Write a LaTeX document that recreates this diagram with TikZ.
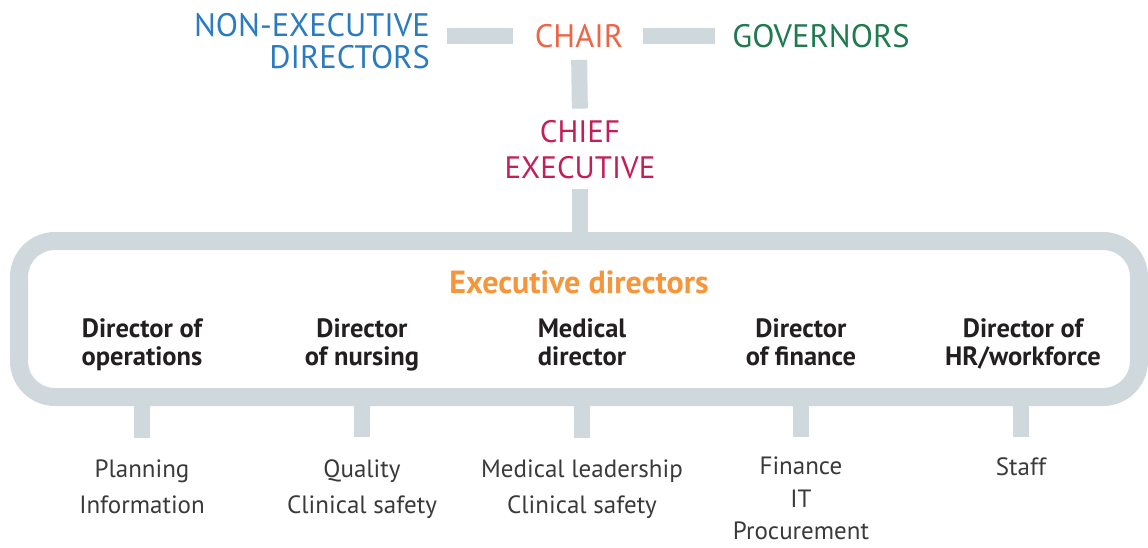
\documentclass[tikz,border=0pt]{standalone}
\usepackage{fontspec}
\setmainfont{PT Sans}
\definecolor{bargray}{HTML}{CFD8DD}
\definecolor{nedblue}{HTML}{2A7BBF}
\definecolor{chairred}{HTML}{EF6445}
\definecolor{govgreen}{HTML}{1F7A50}
\definecolor{ceored}{HTML}{C41E5A}
\definecolor{execorange}{HTML}{F5963A}
\definecolor{txtblack}{HTML}{231F20}
\definecolor{subgray}{HTML}{3A3A3A}
\begin{document}
\begin{tikzpicture}[x=1pt,y=-1pt,
  bar/.style={draw=bargray,line width=16pt,line cap=butt},
  toplbl/.style={inner sep=0pt,font=\fontsize{32.5}{32}\selectfont},
  dirlbl/.style={inner sep=0pt,align=center,anchor=north,text=txtblack,font=\bfseries\fontsize{26.5}{28.5}\selectfont},
  sublbl/.style={inner sep=0pt,align=center,text=subgray,anchor=north,font=\fontsize{25}{36}\selectfont}]
\useasboundingbox[fill=white] (0,0) rectangle (1148,548);
% top row
\node[toplbl,anchor=east,align=right,text=nedblue] (ned) at (430,41) {NON-EXECUTIVE\\DIRECTORS};
\node[toplbl,text=chairred] (chair) at (579,36) {CHAIR};
\node[toplbl,text=govgreen] (gov) at (821,36) {GOVERNORS};
\node[inner sep=0pt,align=center,text=ceored,font=\fontsize{31}{36}\selectfont] (ceo) at (580,150) {CHIEF\\EXECUTIVE};
\draw[bar,shorten <=17pt,shorten >=22pt] (ned.east |- chair) -- (chair.west);
\draw[bar,shorten <=20pt,shorten >=17pt] (chair.east) -- (gov.west);
% board box
\node[draw=bargray,line width=18pt,rounded corners=36pt,minimum width=1120pt,minimum height=156pt,inner sep=0pt] (board) at (579,319) {};
\draw[bar,shorten <=10pt] (ceo.south) -- (ceo.south |- board.north);
\draw[bar,shorten <=12pt,shorten >=12pt] (chair.south) -- (ceo.north);
\node[inner sep=0pt,text=execorange,font=\bfseries\fontsize{32}{34}\selectfont] (exec) at (579,282) {Executive directors};
\node[dirlbl] (d1) at (142,318) {Director of\\operations};
\node[dirlbl] (d2) at (362,318) {Director\\of nursing};
\node[dirlbl] (d3) at (582,318) {Medical\\director};
\node[dirlbl] (d4) at (801,318) {Director\\of finance};
\node[dirlbl] (d5) at (1023,318) {Director of\\HR/workforce};
% sub labels
\node[sublbl] (t1) at (142,460) {Planning\\Information};
\node[sublbl] (t2) at (362,459) {Quality\\Clinical safety};
\node[sublbl] (t3) at (582,460) {Medical leadership\\Clinical safety};
\node[sublbl,font=\fontsize{25}{32.5}\selectfont] (t4) at (801,457) {Finance\\IT\\Procurement};
\node[sublbl] (t5) at (1021,457) {Staff};
\foreach \d/\t in {d1/t1,d2/t2,d3/t3} {
  \draw[bar,shorten >=22pt] (\d |- board.south) -- (\d |- \t.north);
}
\draw[bar,shorten >=20pt] (d4 |- board.south) -- (t4.north);
\draw[bar,shorten >=20pt] (t5 |- board.south) -- (t5.north);
\end{tikzpicture}
\end{document}
